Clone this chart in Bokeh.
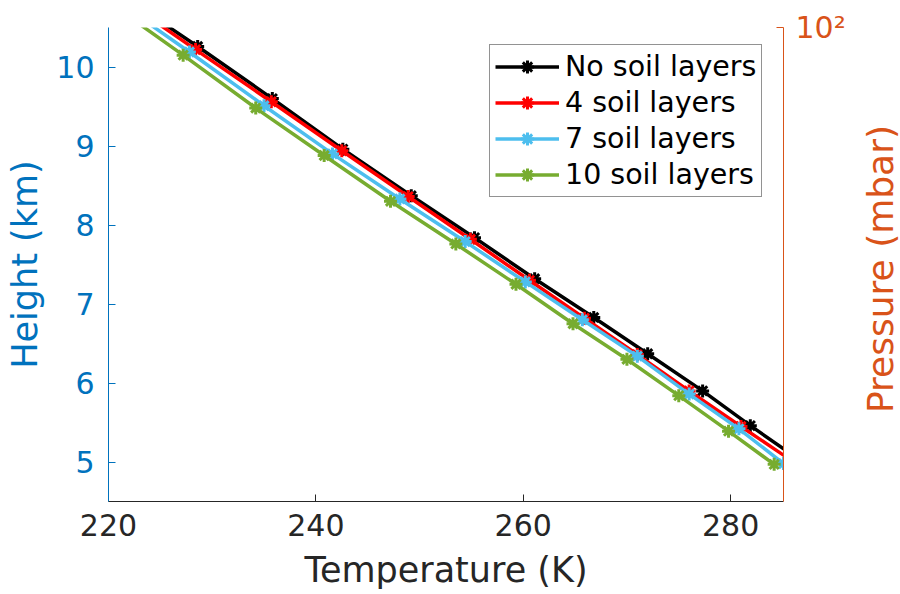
import math
from bokeh.plotting import figure
from bokeh.layouts import row
from bokeh.models import (Range1d, LogAxis, LogScale, FixedTicker,
                          Legend, LegendItem, Label)
from bokeh.embed import file_html
from bokeh.resources import INLINE

# ---------------- data ----------------
series_names = ["No soil layers", "4 soil layers", "7 soil layers", "10 soil layers"]
series_colors = ["#000000", "#FF0000", "#4DBEEE", "#77AC30"]

temp_none = [220.8, 228.6, 235.8, 242.6, 249.2, 255.3, 261.1, 266.8, 272.0, 277.3, 281.9, 286.5]
height_none = [10.95, 10.26, 9.60, 8.96, 8.37, 7.84, 7.32, 6.83, 6.37, 5.90, 5.46, 5.04]

temp_4 = [220.4, 228.4, 235.7, 242.5, 248.9, 254.9, 260.6, 265.9, 271.0, 276.0, 281.0, 286.3]
height_4 = [10.95, 10.22, 9.56, 8.94, 8.36, 7.82, 7.30, 6.82, 6.36, 5.90, 5.45, 4.98]

temp_7 = [220.2, 227.8, 235.0, 241.6, 248.1, 254.4, 260.2, 265.7, 271.0, 276.0, 280.8, 285.1]
height_7 = [10.89, 10.19, 9.51, 8.90, 8.33, 7.79, 7.28, 6.80, 6.34, 5.86, 5.42, 4.98]

temp_10 = [219.7, 227.2, 234.2, 240.8, 247.2, 253.5, 259.3, 264.8, 270.0, 275.0, 279.8, 284.2]
height_10 = [10.85, 10.15, 9.48, 8.88, 8.30, 7.76, 7.25, 6.75, 6.30, 5.84, 5.39, 4.97]

x_ticks = [220, 240, 260, 280]
y_ticks = [5, 6, 7, 8, 9, 10]
pressure_ticks = [100]
pressure_tick_labels = {100: "10\u00b2"}
pressure_title = "Pressure (mbar)"

FONT = "DejaVu Sans"
GRAY = "#262626"
BLUE_AX = "#0072BD"
ORANGE = "#D95319"

# ---------------- main plot ----------------
p = figure(width=860, height=594, output_backend="svg", toolbar_location=None,
           x_range=Range1d(220, 285.1), y_range=Range1d(4.5, 10.5),
           min_border_left=108, min_border_right=77, min_border_top=27,
           min_border_bottom=93)
p.outline_line_color = None
p.xgrid.visible = False
p.ygrid.visible = False
p.background_fill_color = "white"
p.border_fill_color = "white"

# bottom axis
xa = p.xaxis[0]
xa.ticker = FixedTicker(ticks=x_ticks, minor_ticks=[])
xa.axis_label = "Temperature (K)"
xa.axis_line_color = GRAY
xa.major_tick_line_color = GRAY
xa.major_tick_in = 7
xa.major_tick_out = 0
xa.minor_tick_in = 0
xa.minor_tick_out = 0
xa.major_label_text_color = GRAY
xa.major_label_text_font = FONT
xa.major_label_text_font_size = "30px"
xa.major_label_standoff = 12
xa.axis_label_text_color = GRAY
xa.axis_label_text_font = FONT
xa.axis_label_text_font_size = "35px"
xa.axis_label_text_font_style = "normal"
xa.axis_label_standoff = 11

# left axis
ya = p.yaxis[0]
ya.ticker = FixedTicker(ticks=y_ticks, minor_ticks=[])
ya.axis_label = "Height (km)"
ya.axis_line_color = BLUE_AX
ya.major_tick_line_color = BLUE_AX
ya.major_tick_in = 7
ya.major_tick_out = 0
ya.minor_tick_in = 0
ya.minor_tick_out = 0
ya.major_label_text_color = BLUE_AX
ya.major_label_text_font = FONT
ya.major_label_text_font_size = "30px"
ya.major_label_standoff = 14
ya.axis_label_text_color = BLUE_AX
ya.axis_label_text_font = FONT
ya.axis_label_text_font_size = "35px"
ya.axis_label_text_font_style = "normal"
ya.axis_label_standoff = 8

# right (pressure) axis, logarithmic
p.extra_y_ranges = {"pres": Range1d(start=580, end=100)}
p.extra_y_scales = {"pres": LogScale()}
ra = LogAxis(y_range_name="pres", ticker=FixedTicker(ticks=pressure_ticks, minor_ticks=[]))
ra.major_label_overrides = pressure_tick_labels
ra.axis_line_color = ORANGE
ra.major_tick_line_color = ORANGE
ra.major_tick_in = 7
ra.major_tick_out = 0
ra.minor_tick_in = 0
ra.minor_tick_out = 0
ra.major_label_text_color = ORANGE
ra.major_label_text_font = FONT
ra.major_label_text_font_size = "30px"
ra.major_label_standoff = 12
p.add_layout(ra, "right")

temps = [temp_none, temp_4, temp_7, temp_10]
heights = [height_none, height_4, height_7, height_10]
items = []
for name, col, t, h in zip(series_names, series_colors, temps, heights):
    lr = p.line(t, h, line_color=col, line_width=3.5)
    sr = p.scatter(t, h, marker="asterisk", size=13, line_color=col, line_width=3)
    items.append(LegendItem(label=name, renderers=[lr, sr]))

legend = Legend(items=items, location=(381, 304))
legend.border_line_color = GRAY
legend.border_line_width = 1
legend.background_fill_color = "white"
legend.background_fill_alpha = 1
legend.label_text_font = FONT
legend.label_text_font_size = "28.5px"
legend.label_text_color = "#000000"
legend.glyph_width = 64
legend.glyph_height = 33
legend.label_height = 33
legend.label_standoff = 6
legend.spacing = 3
legend.padding = 5
legend.margin = 0
p.add_layout(legend)

# ---------------- narrow strip holding the right-axis title ----------------
# (its frame is aligned with the main frame: 27 px .. 501 px from the top)
strip = figure(width=40, height=594, output_backend="svg", toolbar_location=None,
               x_range=Range1d(0, 40), y_range=Range1d(93, 567),
               x_axis_location=None, y_axis_location=None,
               min_border_left=0, min_border_right=0, min_border_top=0,
               min_border_bottom=0)
strip.outline_line_color = None
strip.xgrid.visible = False
strip.ygrid.visible = False
strip.background_fill_color = "white"
strip.border_fill_color = "white"
strip.add_layout(Label(x=20, y=325.5, text=pressure_title, angle=math.pi / 2,
                       text_color=ORANGE, text_font=FONT, text_font_size="36px",
                       text_align="center", text_baseline="middle"))

layout = row(p, strip, spacing=0)
open("out.html", "w").write(file_html(layout, INLINE))
